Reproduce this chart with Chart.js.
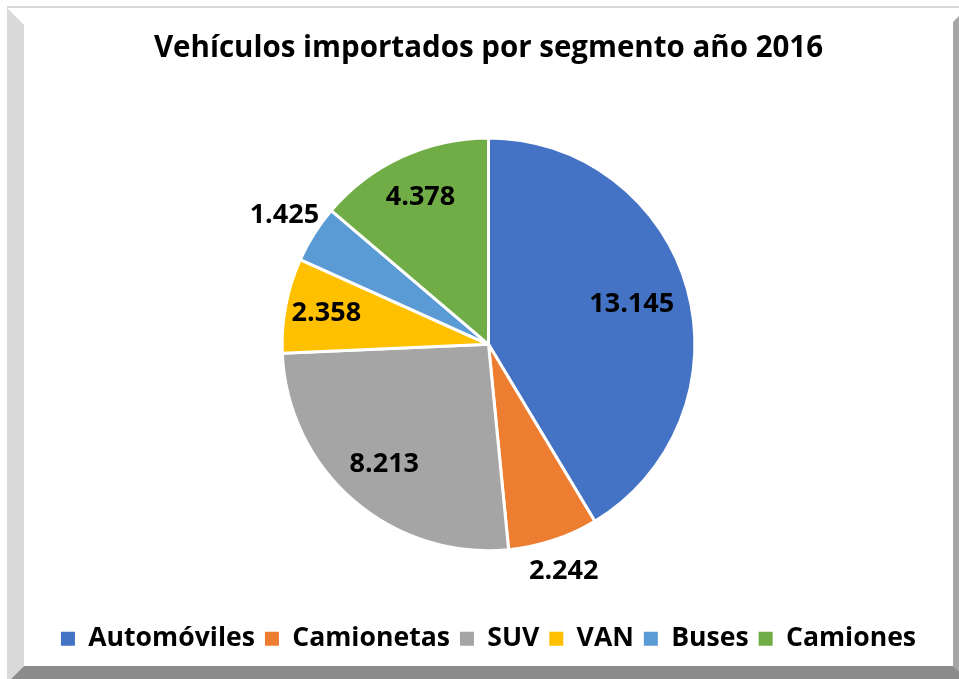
<!DOCTYPE html>
<html>
<head>
<meta charset="utf-8">
<script src="https://cdn.jsdelivr.net/npm/chart.js@4"></script>
<style>
  body { margin: 0; background: #fff; }
  canvas { display: block; }
</style>
</head>
<body>
<canvas id="chart" width="959" height="679"></canvas>
<script>
const segments = ["Automóviles", "Camionetas", "SUV", "VAN", "Buses", "Camiones"];
const vehicles = [13145, 2242, 8213, 2358, 1425, 4378];
const colors = ["#4472C4", "#ED7D31", "#A5A5A5", "#FFC000", "#5B9BD5", "#70AD47"];

// how far from the center each value label sits (fraction of radius)
const labelDist = [0.72, 1.16, 0.77, 0.80, 1.17, 0.785];

function fmt(n) {
  return String(n).replace(/\B(?=(\d{3})+(?!\d))/g, ".");
}

const frame = {
  id: "frame",
  beforeDraw(chart) {
    const c = chart.ctx;
    const W = chart.width, H = chart.height;
    c.save();
    c.fillStyle = "#fff";
    c.fillRect(0, 0, W, H);
    c.fillStyle = "#d9d9d9";
    c.fillRect(7, 6, W - 7, 2);
    c.beginPath();
    c.moveTo(7, 8); c.lineTo(24, 25); c.lineTo(24, 666); c.lineTo(11, 679); c.lineTo(7, 679);
    c.closePath(); c.fill();
    c.fillStyle = "#a6a6a6";
    c.beginPath();
    c.moveTo(953, 22); c.lineTo(959, 16); c.lineTo(959, 679); c.lineTo(953, 666);
    c.closePath(); c.fill();
    c.fillStyle = "#8c8c8c";
    c.beginPath();
    c.moveTo(24, 666); c.lineTo(953, 666); c.lineTo(959, 672); c.lineTo(959, 679); c.lineTo(11, 679);
    c.closePath(); c.fill();
    c.restore();
  }
};

const valueLabels = {
  id: "valueLabels",
  afterDatasetsDraw(chart) {
    const c = chart.ctx;
    const meta = chart.getDatasetMeta(0);
    c.save();
    c.font = "bold 27px 'Open Sans'";
    c.fillStyle = "#000";
    c.textAlign = "center";
    c.textBaseline = "middle";
    meta.data.forEach((arc, i) => {
      const p = arc.getProps(["x", "y", "startAngle", "endAngle", "outerRadius"], true);
      const mid = (p.startAngle + p.endAngle) / 2;
      const r = p.outerRadius * labelDist[i];
      c.fillText(fmt(vehicles[i]), p.x + Math.cos(mid) * r, p.y + Math.sin(mid) * r);
    });
    c.restore();
  }
};

new Chart(document.getElementById("chart").getContext("2d"), {
  type: "pie",
  data: {
    labels: segments,
    datasets: [{
      data: vehicles,
      backgroundColor: colors,
      borderColor: "#fff",
      borderWidth: 3
    }]
  },
  options: {
    responsive: false,
    animation: false,
    devicePixelRatio: 1,
    layout: { padding: { top: 18, left: 24, right: 6, bottom: 17 } },
    plugins: {
      title: {
        display: true,
        text: "Vehículos importados por segmento año 2016",
        color: "#000",
        font: { family: "'Open Sans'", size: 29.5, weight: "bold" },
        padding: { top: 13, bottom: 70 }
      },
      legend: {
        position: "bottom",
        title: { display: true, text: " ", font: { size: 1 }, padding: { top: 62, bottom: 0 } },
        labels: {
          color: "#000",
          font: { family: "'Open Sans'", size: 26.6, weight: "bold" },
          boxWidth: 14,
          boxHeight: 14,
          padding: 10,
          generateLabels(chart) {
            return Chart.overrides.pie.plugins.legend.labels.generateLabels(chart)
              .map(l => Object.assign(l, { lineWidth: 0 }));
          }
        }
      },
      tooltip: { enabled: false }
    }
  },
  plugins: [frame, valueLabels]
});
</script>
</body>
</html>
